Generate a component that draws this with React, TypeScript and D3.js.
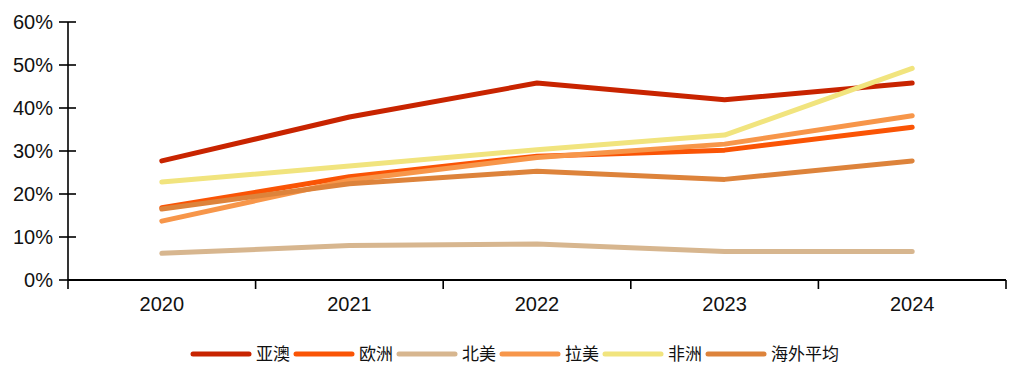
import React from "react";
import * as d3 from "d3";

const years = ["2020", "2021", "2022", "2023", "2024"];
const seriesNames = ["亚澳", "欧洲", "北美", "拉美", "非洲", "海外平均"];
const asiaPacific = [27.7, 37.9, 45.8, 41.9, 45.8];
const europe = [16.8, 24.0, 28.8, 30.2, 35.5];
const northAmerica = [6.2, 8.0, 8.4, 6.6, 6.6];
const latinAmerica = [13.7, 23.2, 28.5, 31.6, 38.2];
const africa = [22.8, 26.5, 30.3, 33.7, 49.2];
const overseasAvg = [16.5, 22.4, 25.3, 23.4, 27.7];
const colors = ["#C82400", "#FA5405", "#D7B68F", "#F7964A", "#F1E47E", "#DD833B"];
const yTicks = [0, 10, 20, 30, 40, 50, 60];

const seriesValues = [asiaPacific, europe, northAmerica, latinAmerica, africa, overseasAvg];

export default function App() {
  const W = 1011, H = 365;
  const x0 = 68, x1 = 1006, yTop = 22, yBot = 280;
  const x = d3.scaleBand<string>().domain(years).range([x0, x1]);
  const y = d3.scaleLinear().domain([0, 60]).range([yBot, yTop]);
  const line = d3
    .line<number>()
    .x((_, i) => (x(years[i]) as number) + x.bandwidth() / 2)
    .y((d) => y(d));
  const font = "'Liberation Sans', Arial, sans-serif";
  const legendStart = 193;
  const legendStep = 103;
  return (
    <svg width={W} height={H} style={{ position: "absolute", left: 0, top: 0 }}>
      <rect width={W} height={H} fill="#fff" />
      {/* y axis */}
      <line x1={x0} x2={x0} y1={yTop} y2={yBot + 9} stroke="#000" strokeWidth={1.6} />
      {yTicks.map((t) => (
        <g key={t}>
          <line x1={x0 - 9} x2={x0 + 8} y1={y(t)} y2={y(t)} stroke="#000" strokeWidth={1.6} />
          <text x={53} y={y(t)} dy="0.36em" textAnchor="end" fontFamily={font} fontSize={20} fill="#111">
            {t}%
          </text>
        </g>
      ))}
      {/* x axis */}
      <line x1={x0} x2={x1} y1={yBot} y2={yBot} stroke="#000" strokeWidth={1.8} />
      {years.map((yr) => (
        <g key={yr}>
          <line
            x1={(x(yr) as number) + x.bandwidth()}
            x2={(x(yr) as number) + x.bandwidth()}
            y1={yBot}
            y2={yBot + 9}
            stroke="#000"
            strokeWidth={1.6}
          />
          <text
            x={(x(yr) as number) + x.bandwidth() / 2}
            y={yBot + 31}
            textAnchor="middle"
            fontFamily={font}
            fontSize={20}
            fill="#111"
          >
            {yr}
          </text>
        </g>
      ))}
      {seriesValues.map((vals, i) => (
        <path
          key={seriesNames[i]}
          d={line(vals) || ""}
          fill="none"
          stroke={colors[i]}
          strokeWidth={5}
          strokeLinecap="round"
          strokeLinejoin="round"
        />
      ))}
      {seriesNames.map((name, i) => {
        const lx = legendStart + i * legendStep;
        return (
          <g key={name}>
            <line x1={lx} x2={lx + 56} y1={354} y2={354} stroke={colors[i]} strokeWidth={5} strokeLinecap="round" />
            <text x={lx + 63} y={354} dy="0.36em" fontFamily="'Noto Sans CJK SC', sans-serif" fontSize={17} fill="#111">
              {name}
            </text>
          </g>
        );
      })}
    </svg>
  );
}
